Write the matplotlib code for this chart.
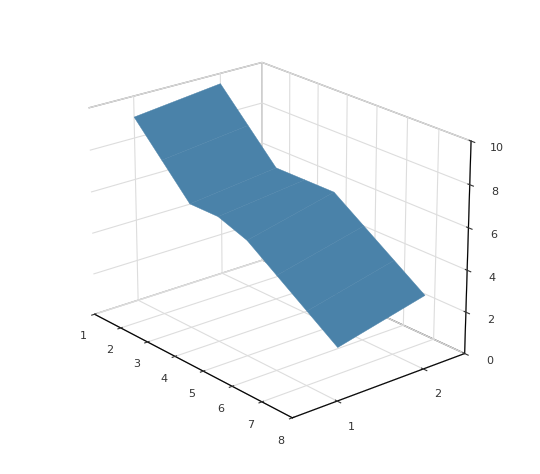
import numpy as np
import matplotlib.pyplot as plt

# Data
x_vals = [1, 2, 3, 4, 5, 6, 7, 8]
y_vals = [1, 2]
z_row1 = [9.0, 7.5, 6.0, 6.0, 5.5, 4.5, 3.5, 2.5]
z_row2 = [9.5, 8.0, 6.5, 6.5, 6.5, 5.5, 4.5, 3.5]

X, Y = np.meshgrid(x_vals, y_vals)
Z = np.array([z_row1, z_row2])

fig = plt.figure(figsize=(5.4, 4.74), dpi=100)
ax = fig.add_axes([0.0, 0.0, 1.0, 1.0], projection='3d')

ax.plot_surface(X, Y, Z, color='#4a82a9', shade=False,
                linewidth=0.3, edgecolor='#4a82a9', antialiased=True)

ax.set_xlim(1, 8)
ax.set_ylim(0.5, 2.5)
ax.set_zlim(0, 10)
ax.set_xticks(x_vals)
ax.set_yticks(y_vals)
ax.set_zticks([0, 2, 4, 6, 8, 10])
ax.set_box_aspect((1.4, 1.0, 1.0), zoom=0.92)

for a in (ax.xaxis, ax.yaxis, ax.zaxis):
    a.pane.set_facecolor((1, 1, 1, 0))
    a.pane.set_edgecolor('#333333')
    a._axinfo['grid']['color'] = '#dddddd'
    a._axinfo['grid']['linewidth'] = 0.8
ax.tick_params(labelsize=8, colors='#333333')

ax.view_init(elev=22, azim=-40)
fig.savefig('out.png', dpi=100)
